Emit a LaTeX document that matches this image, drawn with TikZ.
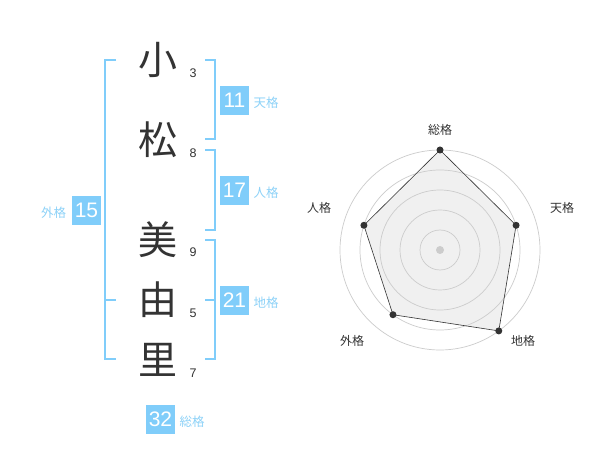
\documentclass[tikz,border=0pt]{standalone}
\usepackage{fontspec}
\setmainfont{Liberation Sans}
\newfontfamily\cjk{Noto Sans CJK JP}
\definecolor{kblue}{HTML}{80CDFA}
\definecolor{klab}{HTML}{8DD2F8}
\definecolor{kdark}{HTML}{333333}
\begin{document}
\begin{tikzpicture}[x=1pt,y=-1pt,
  kanji/.style={font=\cjk\fontsize{39}{39}\selectfont, text=kdark, inner sep=0},
  strokes/.style={font=\fontsize{12.5}{12.5}\selectfont, text=kdark, inner sep=0},
  valbox/.style={fill=kblue, text=white, minimum width=29pt, minimum height=29pt, inner sep=0, font=\fontsize{21}{21}\selectfont},
  vlabel/.style={text=klab, font=\cjk\fontsize{12.5}{12.5}\selectfont, inner sep=0},
  brk/.style={draw=kblue, line width=1.6pt},
  ring/.style={draw=black!20, line width=0.7pt},
  rlabel/.style={text=kdark, font=\cjk\fontsize{12}{12}\selectfont, inner sep=0},
  rdot/.style={circle, fill=kdark, inner sep=0, minimum size=7pt}
]
\useasboundingbox (0,0) rectangle (600,470);
\fill[white] (0,0) rectangle (600,470);

% name characters
\node[kanji] (k1) at (158,60) {小};
\node[kanji] (k2) at (158,140) {松};
\node[kanji] (k3) at (158,240) {美};
\node[kanji] (k4) at (158,300) {由};
\node[kanji] (k5) at (158,360) {里};
\node[strokes] (s1) at (193,73) {3};
\node[strokes] (s2) at (193,153) {8};
\node[strokes] (s3) at (193,252) {9};
\node[strokes] (s4) at (193,313) {5};
\node[strokes] (s5) at (193,373) {7};

% brackets
\draw[brk] (116,60) -- (105,60) -- (105,359) -- (116,359);
\draw[brk] (105,300) -- (116,300);
\draw[brk] (205,60) -- (215,60) -- (215,139) -- (205,139);
\draw[brk] (205,150) -- (215,150) -- (215,230) -- (205,230);
\draw[brk] (205,240) -- (215,240) -- (215,359) -- (205,359);
\draw[brk] (205,300) -- (215,300);

% values
\node[valbox] (b11) at (234.5,100.5) {11};
\node[vlabel] (l11) at (266,103) {天格};
\node[valbox] (b17) at (234.5,190.5) {17};
\node[vlabel] (l17) at (266,193) {人格};
\node[valbox] (b21) at (234.5,300.5) {21};
\node[vlabel] (l21) at (266,303) {地格};
\node[valbox] (b15) at (86.5,210.5) {15};
\node[vlabel] (l15) at (53.5,213) {外格};
\node[valbox] (b32) at (160.5,419.5) {32};
\node[vlabel] (l32) at (192,422) {総格};

% radar chart
\begin{scope}[shift={(440,250)}]
  \coordinate (p1) at (-90:100);
  \coordinate (p2) at (-18:80);
  \coordinate (p3) at (54:100);
  \coordinate (p4) at (126:80);
  \coordinate (p5) at (198:80);
  \fill[black!6] (p1) -- (p2) -- (p3) -- (p4) -- (p5) -- cycle;
  \foreach \r in {20,40,60,80,100} \draw[ring] (0,0) circle[radius=\r pt];
  \draw[kdark, line width=0.6pt] (p1) -- (p2) -- (p3) -- (p4) -- (p5) -- cycle;
  \node[circle, fill=black!20, minimum size=8pt, inner sep=0] (c0) at (0,0) {};
  \node[rdot] (d1) at (p1) {};
  \node[rdot] (d2) at (p2) {};
  \node[rdot] (d3) at (p3) {};
  \node[rdot] (d4) at (p4) {};
  \node[rdot] (d5) at (p5) {};
\end{scope}
\node[rlabel] (r1) at (440,130) {総格};
\node[rlabel] (r2) at (562,208) {天格};
\node[rlabel] (r3) at (523,341) {地格};
\node[rlabel] (r4) at (352,341) {外格};
\node[rlabel] (r5) at (319,208) {人格};
\end{tikzpicture}
\end{document}
